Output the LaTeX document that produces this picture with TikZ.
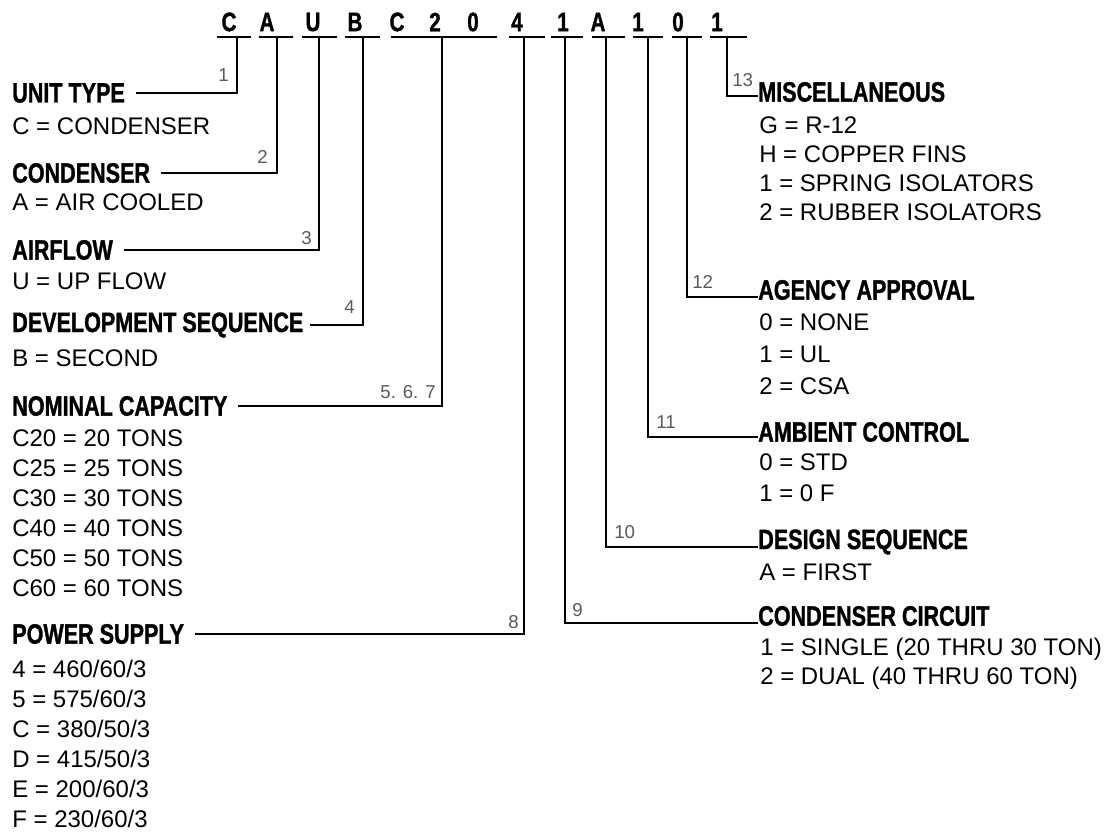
\documentclass[tikz,border=0pt]{standalone}
\usepackage{fontspec}
\setmainfont{Liberation Sans}
\newfontfamily\condbold[FakeStretch=0.77,FakeBold=1.2]{Liberation Sans Bold}
\usepackage{tikz}
\usetikzlibrary{calc,positioning}
\newcommand\codefont{\condbold\fontsize{20}{22}\selectfont}
\newcommand\titlefont{\condbold\fontsize{21}{24}\selectfont}
\newcommand\entryfont{\fontsize{18}{20}\selectfont}
\newcommand\numfont{\fontsize{14}{16}\selectfont}
\begin{document}
\begin{tikzpicture}[x=0.75pt,y=-0.75pt,
    code/.style={font=\codefont,inner sep=0pt},
    title/.style={font=\titlefont,anchor=west,inner sep=0pt},
    entry/.style={font=\entryfont,anchor=west,inner sep=0pt},
    num/.style={font=\numfont,text=black!65,inner sep=0pt},
    lead/.style={line width=1.6pt},
    bar/.style={line width=2pt}]
            \useasboundingbox (0,0) rectangle (1115,832);
            \def\ly{37}
            \coordinate (p1) at (237,\ly);
            \coordinate (p2) at (277,\ly);
            \coordinate (p3) at (319,\ly);
            \coordinate (p4) at (363,\ly);
            \coordinate (p567) at (442,\ly);
            \coordinate (p8) at (524,\ly);
            \coordinate (p9) at (565,\ly);
            \coordinate (p10) at (606,\ly);
            \coordinate (p11) at (648,\ly);
            \coordinate (p12) at (687,\ly);
            \coordinate (p13) at (727,\ly);
            %Model number
            \foreach \ch/\x [count=\i] in {C/229,A/267,U/313,B/355,C/397,2/435,0/473,4/517,1/563,A/598,1/638,0/678,1/717}
                \node[code] (c\i) at (\x,22) {\ch};
            \foreach \a/\b in {217/251,259/293,302/337,345/380,391/497,509/545,551/583,592/625,633/663,672/702,710/747}
                \draw[bar] (\a,\ly) -- (\b,\ly);
            %Left side
            \node[title] (unit) at (12,93) {UNIT TYPE};
            \node[entry] (unit1) at (12,126) {C = CONDENSER};
            \node[title] (cond) at (12,173) {CONDENSER};
            \node[entry] (cond1) at (12,202) {A = AIR COOLED};
            \node[title] (air) at (12,250) {AIRFLOW};
            \node[entry] (air1) at (12,281) {U = UP FLOW};
            \node[title] (dev) at (12,325) {DEVELOPMENT SEQUENCE};
            \node[entry] (dev1) at (12,358) {B = SECOND};
            \node[title] (cap) at (12,406) {NOMINAL CAPACITY};
            \foreach \t [count=\i] in {C20 = 20 TONS,C25 = 25 TONS,C30 = 30 TONS,C40 = 40 TONS,C50 = 50 TONS,C60 = 60 TONS}
                \node[entry] (cap\i) at (12,408+30*\i) {\t};
            \node[title] (pow) at (12,634) {POWER SUPPLY};
            \foreach \t [count=\i] in {4 = 460/60/3,5 = 575/60/3,C = 380/50/3,D = 415/50/3,E = 200/60/3,F = 230/60/3}
                \node[entry] (pow\i) at (12,639+30*\i) {\t};
            %Right side
            \node[title] (misc) at (758,92) {MISCELLANEOUS};
            \foreach \t [count=\i] in {G = R-12,H = COPPER FINS,1 = SPRING ISOLATORS,2 = RUBBER ISOLATORS}
                \node[entry] (misc\i) at (759,96+29*\i) {\t};
            \node[title] (agcy) at (758,290) {AGENCY APPROVAL};
            \foreach \t [count=\i] in {0 = NONE,1 = UL,2 = CSA}
                \node[entry] (agcy\i) at (759,290+32*\i) {\t};
            \node[title] (amb) at (758,432) {AMBIENT CONTROL};
            \foreach \t [count=\i] in {0 = STD,1 = 0 F}
                \node[entry] (amb\i) at (759,431+31*\i) {\t};
            \node[title] (dsgn) at (758,542) {DESIGN SEQUENCE};
            \node[entry] (dsgn1) at (759,572) {A = FIRST};
            \node[title] (circ) at (758,616) {CONDENSER CIRCUIT};
            \node[entry] (circ1) at (760,649) {1 = SINGLE (20 THRU 30 TON)};
            \node[entry] (circ2) at (760,678) {2 = DUAL (40 THRU 60 TON)};
            %Leads
            \draw[lead] (p1) |- ([xshift=8pt]unit.east);
            \draw[lead] (p2) |- ([xshift=8pt]cond.east);
            \draw[lead] (p3) |- ([xshift=8pt]air.east);
            \draw[lead] (p4) |- ([xshift=5pt]dev.east);
            \draw[lead] (p567) |- ([xshift=8pt]cap.east);
            \draw[lead] (p8) |- ([xshift=8pt]pow.east);
            \draw[lead] (p9) |- ([yshift=-5pt]circ.west);
            \draw[lead] (p10) |- ([yshift=-4pt]dsgn.west);
            \draw[lead] (p11) |- ([yshift=-4pt]amb.west);
            \draw[lead] (p12) |- ([yshift=-5pt]agcy.west);
            \draw[lead] (p13) |- ([yshift=-3pt]misc.west);
            %Position numbers
            \node[num,anchor=east] (n1) at (229,75) {1};
            \node[num,anchor=east] (n2) at (268,157) {2};
            \node[num,anchor=east] (n3) at (312,238) {3};
            \node[num,anchor=east] (n4) at (355,307) {4};
            \node[num,anchor=east] (n567) at (436,392) {5. 6. 7};
            \node[num,anchor=east] (n8) at (519,622) {8};
            \node[num,anchor=west] (n9) at (572,610) {9};
            \node[num,anchor=west] (n10) at (614,532) {10};
            \node[num,anchor=west] (n11) at (656,422) {11};
            \node[num,anchor=west] (n12) at (692,282) {12};
            \node[num,anchor=west] (n13) at (732,80) {13};
        \end{tikzpicture}
\end{document}
